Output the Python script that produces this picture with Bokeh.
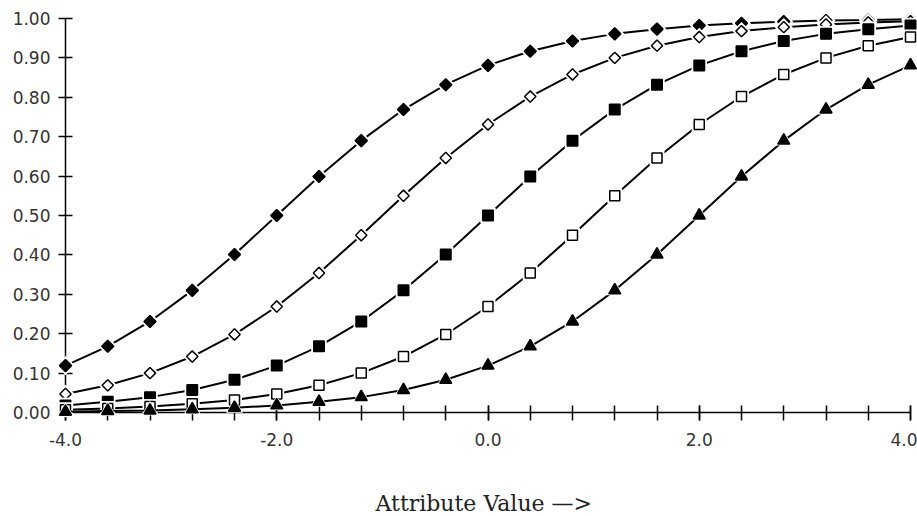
import math
from bokeh.plotting import figure
from bokeh.models import Range1d, FixedTicker, NumeralTickFormatter, Label
from bokeh.embed import file_html
from bokeh.resources import INLINE

# ---------------- data ----------------
x_values = [-4.0, -3.6, -3.2, -2.8, -2.4, -2.0, -1.6, -1.2, -0.8, -0.4, 0.0,
            0.4, 0.8, 1.2, 1.6, 2.0, 2.4, 2.8, 3.2, 3.6, 4.0]

filled_diamond = [0.119, 0.168, 0.231, 0.310, 0.401, 0.500, 0.599, 0.690, 0.769, 0.832, 0.881,
                  0.917, 0.943, 0.961, 0.973, 0.982, 0.988, 0.992, 0.995, 0.996, 0.998]
open_diamond = [0.047, 0.069, 0.100, 0.142, 0.198, 0.269, 0.354, 0.450, 0.550, 0.646, 0.731,
                0.802, 0.858, 0.900, 0.931, 0.953, 0.968, 0.978, 0.985, 0.990, 0.993]
filled_square = [0.018, 0.027, 0.039, 0.057, 0.083, 0.119, 0.168, 0.231, 0.310, 0.401, 0.500,
                 0.599, 0.690, 0.769, 0.832, 0.881, 0.917, 0.943, 0.961, 0.973, 0.982]
open_square = [0.007, 0.010, 0.015, 0.022, 0.032, 0.047, 0.069, 0.100, 0.142, 0.198, 0.269,
               0.354, 0.450, 0.550, 0.646, 0.731, 0.802, 0.858, 0.900, 0.931, 0.953]
filled_triangle = [0.002, 0.004, 0.005, 0.008, 0.012, 0.018, 0.027, 0.039, 0.057, 0.083, 0.119,
                   0.168, 0.231, 0.310, 0.401, 0.500, 0.599, 0.690, 0.769, 0.832, 0.881]

x_major_ticks = [-4.0, -2.0, 0.0, 2.0, 4.0]
y_ticks = [0.0, 0.1, 0.2, 0.3, 0.4, 0.5, 0.6, 0.7, 0.8, 0.9, 1.0]
x_title = "Attribute Value \u2014>"

# ---------------- figure ----------------
p = figure(width=917, height=516, x_range=Range1d(-4, 4), y_range=Range1d(0, 1),
           min_border_left=65, min_border_right=7, min_border_top=18, min_border_bottom=104,
           toolbar_location=None, output_backend="svg")
p.outline_line_color = None
p.grid.visible = False

tick_color = "#333333"

xa = p.xaxis[0]
xa.ticker = FixedTicker(ticks=x_major_ticks, minor_ticks=x_values)
xa.formatter = NumeralTickFormatter(format="0.0")
xa.axis_line_width = 1.5
xa.major_tick_in = 7
xa.major_tick_out = 8
xa.minor_tick_in = 7
xa.minor_tick_out = 8
xa.major_tick_line_width = 1.5
xa.minor_tick_line_width = 1.5
xa.minor_tick_line_color = "black"
xa.major_label_standoff = 12
xa.major_label_text_font = "DejaVu Sans"
xa.major_label_text_font_size = "17px"
xa.major_label_text_color = tick_color

ya = p.yaxis[0]
ya.ticker = FixedTicker(ticks=y_ticks, minor_ticks=[])
ya.formatter = NumeralTickFormatter(format="0.00")
ya.axis_line_width = 1.5
ya.major_tick_in = 7
ya.major_tick_out = 7
ya.major_tick_line_width = 1.5
ya.minor_tick_line_color = None
ya.major_label_standoff = 8
ya.major_label_text_font = "DejaVu Sans"
ya.major_label_text_font_size = "17px"
ya.major_label_text_color = tick_color

series = [
    (filled_diamond, "square", math.pi / 4, 8.5, "black"),
    (open_diamond, "square", math.pi / 4, 8, "white"),
    (filled_square, "square", 0, 10.5, "black"),
    (open_square, "square", 0, 10, "white"),
    (filled_triangle, "triangle", 0, 12, "black"),
]

for ys, marker, ang, size, fill in series:
    r1 = p.line(x_values, ys, line_color="black", line_width=2)
    r2 = p.scatter(x_values, ys, marker=marker, angle=ang, size=size + 5,
                   fill_color="white", line_color=None)
    r3 = p.scatter(x_values, ys, marker=marker, angle=ang, size=size,
                   fill_color=fill, line_color="black", line_width=1.5)
    for r in (r1, r2, r3):
        r.level = "overlay"

# x-axis title, placed in the bottom panel
title_label = Label(x=-0.04, y=-91 / 394, x_units="data", y_units="data", text=x_title,
                    text_font="DejaVu Serif", text_font_size="22px",
                    text_align="center", text_baseline="alphabetic", text_color="#222222")
p.add_layout(title_label, "below")

open("out.html", "w").write(file_html(p, INLINE))
